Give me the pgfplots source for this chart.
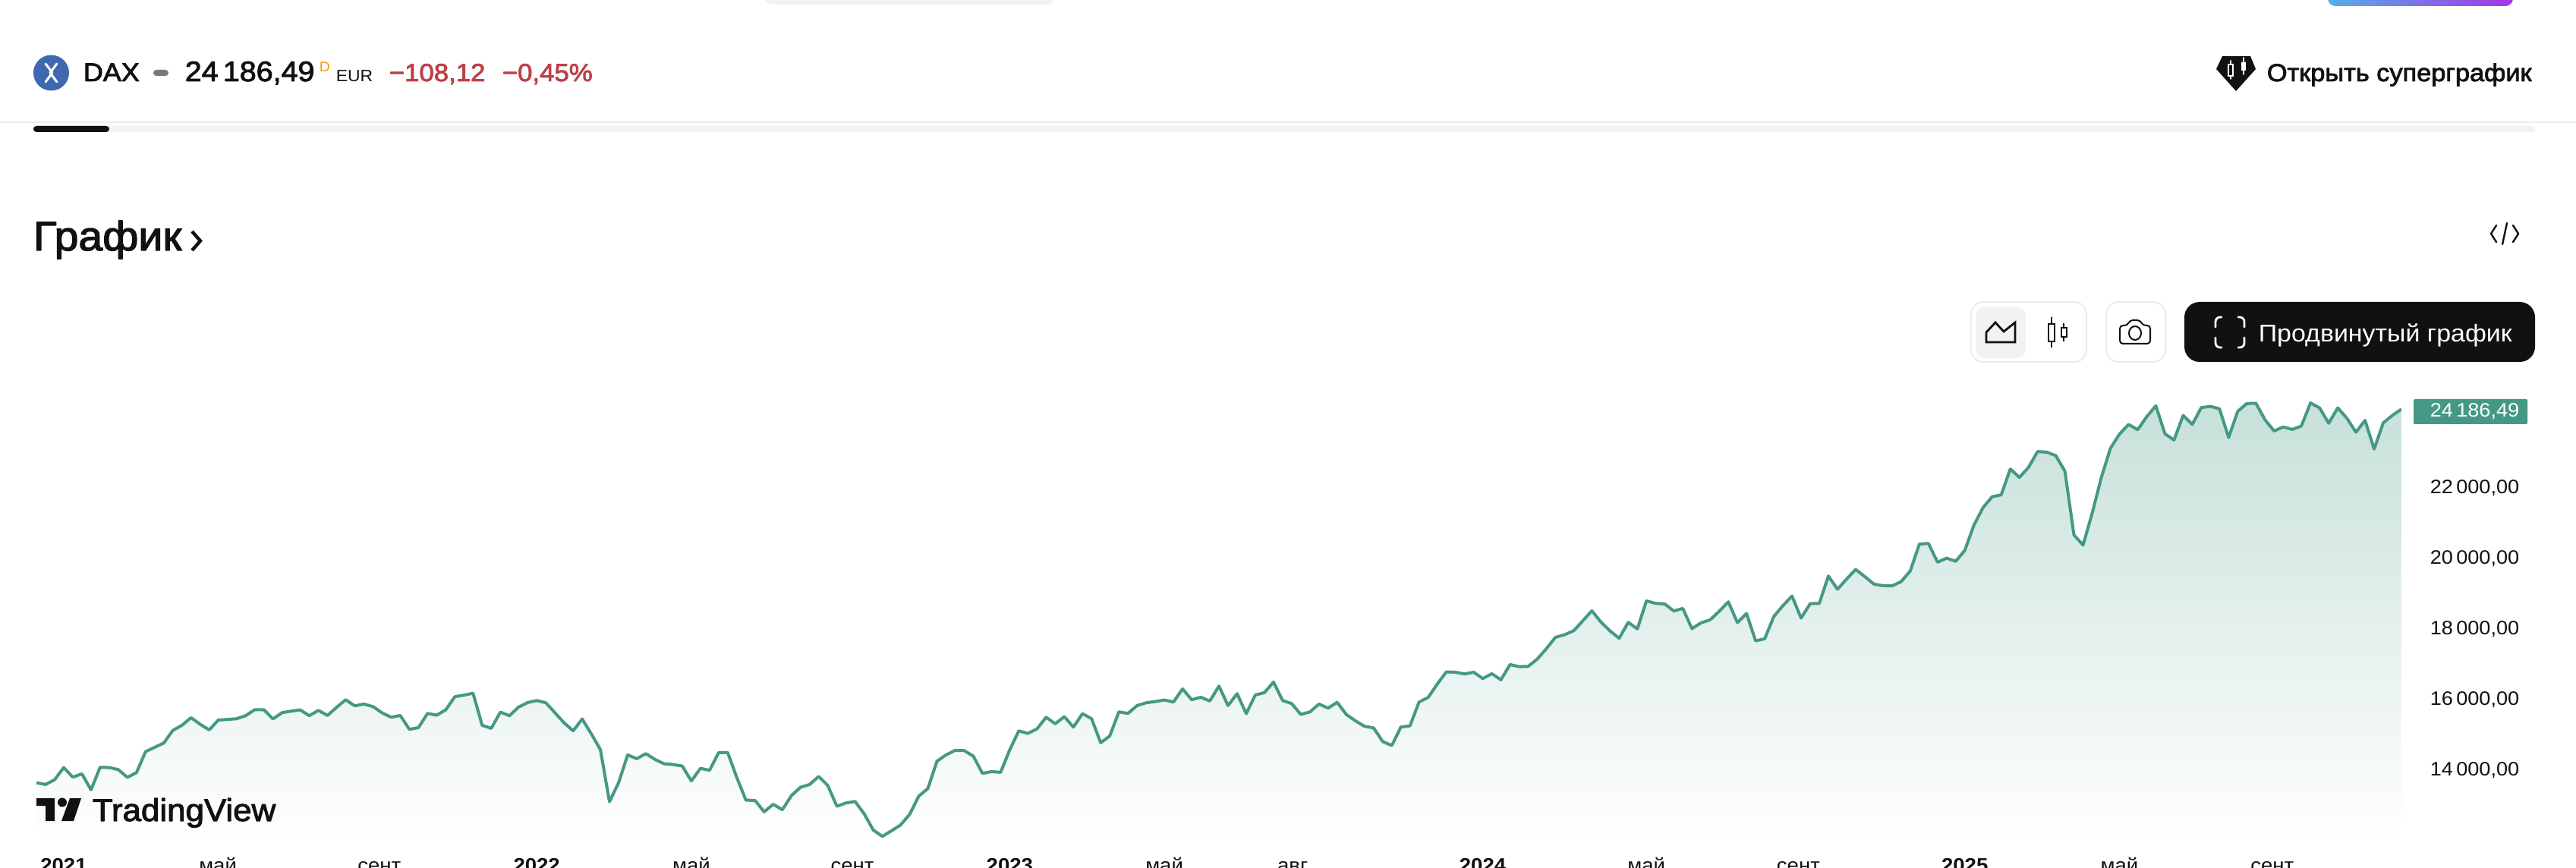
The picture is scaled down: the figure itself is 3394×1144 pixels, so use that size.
\documentclass[border=0pt]{standalone}
\usepackage{pgfplots}
\pgfplotsset{compat=1.18}
\usepackage{pgfplotstable}
\usepackage{fontspec}
\setmainfont{Liberation Sans}[FakeStretch=1.06]
\newfontfamily\medfont{Liberation Sans}[FakeStretch=1.06,FakeBold=2.5]
\definecolor{teal}{HTML}{459984}
\definecolor{ink}{HTML}{111111}
\definecolor{downred}{HTML}{BD4049}
\definecolor{edge}{HTML}{ECECEC}
\definecolor{soft}{HTML}{F2F2F2}
\definecolor{coin}{HTML}{3F68AE}
% weekly close, x is the week number
\pgfplotstableread{
x y
0 13587
1 13537
2 13673
3 14018
4 13745
5 13839
6 13386
7 14025
8 14018
9 13961
10 13738
11 13874
12 14470
13 14592
14 14714
15 15073
16 15217
17 15432
18 15245
19 15087
20 15367
21 15382
22 15403
23 15489
24 15661
25 15661
26 15396
27 15575
28 15618
29 15654
30 15489
31 15640
32 15496
33 15726
34 15941
35 15769
36 15819
37 15748
38 15568
39 15446
40 15496
41 15102
42 15152
43 15554
44 15504
45 15654
46 16028
47 16071
48 16128
49 15217
50 15130
51 15590
52 15489
53 15733
54 15862
55 15920
56 15855
57 15575
58 15288
59 15059
60 15396
61 14973
62 14528
63 13049
64 13587
65 14377
66 14269
67 14413
68 14248
69 14126
70 14104
71 14061
72 13638
73 13996
74 13939
75 14441
76 14441
77 13731
78 13092
79 13085
80 12762
81 12977
82 12819
83 13221
84 13458
85 13537
86 13767
87 13508
88 12920
89 13013
90 13056
91 12705
92 12245
93 12066
94 12224
95 12389
96 12690
97 13207
98 13422
99 14197
100 14377
101 14506
102 14499
103 14341
104 13853
105 13903
106 13882
107 14520
108 15059
109 14987
110 15116
111 15446
112 15260
113 15461
114 15166
115 15547
116 15403
117 14721
118 14915
119 15597
120 15554
121 15776
122 15855
123 15891
124 15934
125 15877
126 16250
127 15941
128 16013
129 15906
130 16329
131 15776
132 16114
133 15547
134 16078
135 16142
136 16444
137 15920
138 15833
139 15525
140 15596
141 15819
142 15704
143 15869
144 15525
145 15345
146 15188
147 15144
148 14757
149 14642
150 15166
151 15202
152 15876
153 16006
154 16386
155 16731
156 16723
157 16673
158 16723
159 16544
160 16680
161 16508
162 16939
163 16881
164 16888
165 17097
166 17391
167 17714
168 17786
169 17900
170 18180
171 18467
172 18144
173 17893
174 17685
175 18137
176 17951
177 18747
178 18675
179 18661
180 18460
181 18532
182 17958
183 18123
184 18209
185 18453
186 18719
187 18130
188 18388
189 17613
190 17671
191 18302
192 18611
193 18884
194 18259
195 18668
196 18675
197 19451
198 19077
199 19365
200 19637
201 19436
202 19221
203 19178
204 19171
205 19293
206 19594
207 20355
208 20376
209 19844
210 19959
211 19870
212 20180
213 20896
214 21391
215 21701
216 21754
217 22488
218 22249
219 22532
220 22983
221 22965
222 22868
223 22426
224 20613
225 20330
226 21232
227 22240
228 23071
229 23478
230 23752
231 23602
232 23973
233 24282
234 23487
235 23310
236 24008
237 23752
238 24229
239 24265
240 24194
241 23381
242 24123
243 24344
244 24353
245 23885
246 23566
247 23681
248 23610
249 23708
250 24362
251 24221
252 23787
253 24221
254 23929
255 23531
256 23867
257 23053
258 23796
259 24008
260 24186.49
}\dax

\begin{document}
\begin{tikzpicture}[x=.25pt, y=-.25pt, line cap=round, line join=round]
    % page: 3394 x 1144 px, 1 px = .25 pt
    \path[use as bounding box, clip] (0,0) rectangle (3394,1144);
    \fill[white] (0,0) rectangle (3394,1144);
    \coordinate (ax) at (48,1110);

    \begin{axis}[
        at={(ax)}, anchor=south west, scale only axis,
        width=779pt, height=147.5pt,
        xmin=0, xmax=260, ymin=11900, ymax=24600,
        axis line style={draw=none}, major tick length=0pt,
        scaled y ticks=false,
        ytick={14000,16000,18000,20000,22000},
        yticklabels={14\,000{,}00,16\,000{,}00,18\,000{,}00,20\,000{,}00,22\,000{,}00},
        ytick pos=right, yticklabel pos=right,
        yticklabel style={font=\fontsize{6.4}{8}\selectfont, text=ink, anchor=west, inner sep=0pt, xshift=9.25pt, yshift=-.7pt},
        xtick={3,19.95,37.7,55,72,89.7,107,124,138.1,159,177,193.7,212,229,245.8},
        xticklabels={\textbf{2021},май,сент,\textbf{2022},май,сент,\textbf{2023},май,авг,\textbf{2024},май,сент,\textbf{2025},май,сент},
        xtick pos=bottom,
        xticklabel style={font=\fontsize{6.5}{8}\selectfont, text=ink, anchor=base, inner sep=0pt, yshift=-9.75pt},
    ]
        \addplot[draw=none, top color=teal!30!white, bottom color=white] table[x=x, y=y] {\dax} \closedcycle;
        \addplot[teal, line width=1pt] table[x=x, y=y] {\dax};
    \end{axis}

    % pill and gradient button cut by the top edge
    \fill[soft, rounded corners=3pt] (1006,-20) rectangle (1390,6);
    \definecolor{gl}{HTML}{55AEE8}
    \definecolor{gm}{HTML}{3F5FF5}
    \definecolor{gr}{HTML}{A535E5}
    \shade[left color=gl, middle color=gm, right color=gr, rounded corners=2.5pt] (3067,-20) rectangle (3311,8);

    % header row
    \fill[coin] (67.5,96) circle (23.5);
    \draw[white, line width=.75pt] (60,84) -- (69,96) -- (60,108) (75,84) -- (66,96) -- (75,108);
    \tikzset{t/.style={inner sep=0pt, anchor=base west}}
    \node[t, text=ink, font=\medfont\fontsize{8.5}{10}\selectfont] at (109,107) {DAX};
    \fill[black!52, rounded corners=1pt] (202,92) rectangle (222,100);
    \node[t, text=ink, font=\medfont\fontsize{9.3}{10}\selectfont] at (243,107) {24\,186,49};
    \node[t, text=orange!80!yellow, font=\fontsize{4.6}{6}\selectfont] at (420,95) {D};
    \node[t, text=ink, font=\fontsize{5.4}{7}\selectfont] at (442,108) {EUR};
    \node[t, text=downred, font=\medfont\fontsize{8.2}{10}\selectfont] at (512,107) {−108,12};
    \node[t, text=downred, font=\medfont\fontsize{8.2}{10}\selectfont] at (661,107) {−0,45\%};

    % supergraph link
    \fill[ink] (2928,74) -- (2965,74) -- (2972,91) -- (2946,120) -- (2920,91) -- cycle;
    \draw[white, line width=.4pt] (2939,80) -- (2939,104) (2956,76) -- (2956,98);
    \fill[ink, draw=white, line width=.4pt, line join=miter] (2936,85) rectangle (2942,100);
    \fill[white] (2953,82) rectangle (2959,93);
    \node[t, text=ink, font=\medfont\fontsize{8.1}{10}\selectfont] at (2986,107) {Открыть суперграфик};

    % scroll bar
    \draw[edge, line width=.5pt] (0,161) -- (3394,161);
    \fill[soft, rounded corners=1pt] (44,166) rectangle (3340,174);
    \fill[ink, rounded corners=1pt] (44,166) rectangle (144,174);

    % title
    \node[t, text=ink, font=\medfont\fontsize{13.5}{16}\selectfont] at (43,330) {График};
    \draw[ink, line width=1.1pt, line cap=butt, line join=miter] (253,305) -- (264,317.5) -- (253,330);
    \draw[ink, line width=.6pt] (3289,297) -- (3282,308) -- (3289,319) (3311,297) -- (3318,308) -- (3311,319) (3303,294) -- (3297,322);

    % chart buttons
    \draw[edge, line width=.5pt, rounded corners=4pt] (2597,398) rectangle (2749,477);
    \fill[soft, rounded corners=3pt] (2603,404) rectangle (2669,472);
    \draw[ink, line width=.7pt, line join=miter, line cap=butt] (2617,451) -- (2617,438) -- (2629,425) -- (2640,437) -- (2655,425) -- (2655,451) -- cycle;
    \draw[ink, line width=.5pt, line cap=butt] (2703,418) -- (2703,458) (2719,426) -- (2719,450);
    \draw[ink, fill=white, line width=.6pt, line join=miter] (2699,427) rectangle (2707,450);
    \draw[ink, fill=white, line width=.6pt, line join=miter] (2716,432) rectangle (2723,444);
    \draw[edge, line width=.5pt, rounded corners=4pt] (2775,398) rectangle (2853,477);
    \draw[ink, line width=.5pt, rounded corners=1pt] (2793,429) -- (2803,429) -- (2806,422) -- (2820,422) -- (2823,429) -- (2833,429) -- (2833,453) -- (2793,453) -- cycle;
    \draw[ink, line width=.5pt] (2813,439) ellipse (8 and 9);
    \fill[ink, rounded corners=5pt] (2878,398) rectangle (3340,477);
    \draw[white, line width=.7pt, rounded corners=1.5pt]
        (2927,418) -- (2919,418) -- (2919,431) (2949,418) -- (2957,418) -- (2957,431)
        (2927,458) -- (2919,458) -- (2919,445) (2949,458) -- (2957,458) -- (2957,445);
    \node[t, text=white, font=\fontsize{8}{10}\selectfont] at (2975,451) {Продвинутый график};

    % last price tag
    \fill[teal, rounded corners=.5pt] (3180,526) rectangle (3330,559);
    \node[t, text=white, font=\fontsize{6.4}{8}\selectfont] at (3201,549.5) {24\,186,49};

    % logo
    \fill[ink] (48,1052) rectangle (72,1062) (60,1052) rectangle (72,1082);
    \fill[ink] (82,1057.5) circle (6);
    \fill[ink] (92,1052) -- (107,1052) -- (97,1082) -- (81,1082) -- cycle;
    \node[t, text=ink, font=\medfont\fontsize{10.35}{12}\selectfont] at (121,1082) {TradingView};
\end{tikzpicture}
\end{document}
